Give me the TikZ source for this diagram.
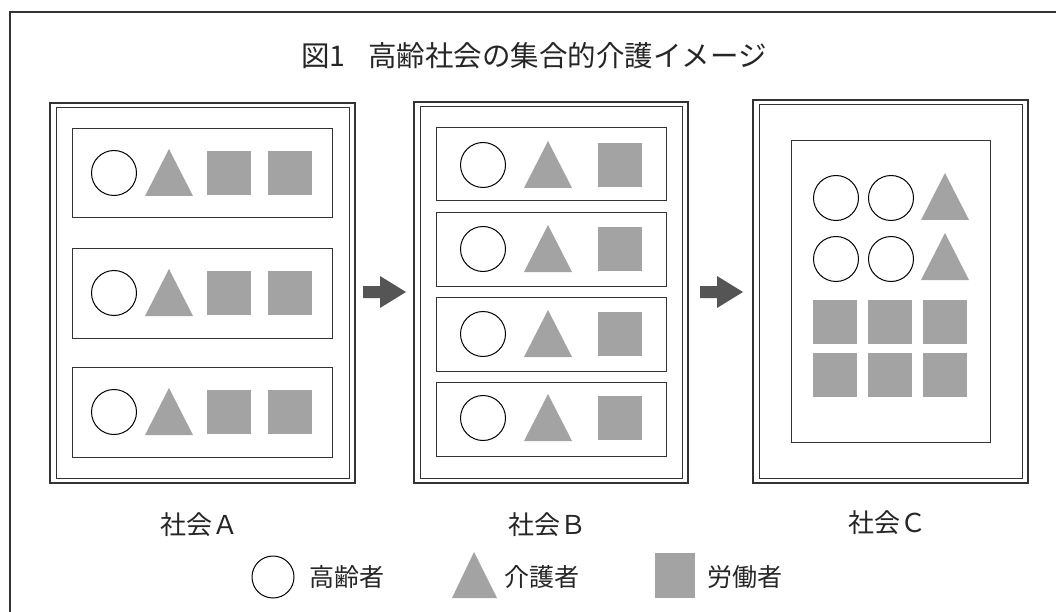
\documentclass[tikz,border=0pt]{standalone}
\usepackage{fontspec}
\newfontfamily\jp{Noto Sans CJK JP}
\definecolor{shapegray}{HTML}{A3A3A3}
\definecolor{arrowgray}{HTML}{555555}
\definecolor{linegray}{HTML}{333333}
\tikzset{
  panelout/.style={draw=linegray, line width=2.2pt},
  panelin/.style={draw=linegray, line width=1pt},
  rowbox/.style={draw=linegray, line width=1pt},
  elder/.style={draw=black, line width=1pt, fill=white},
  worker/.style={fill=shapegray},
  carer/.style={fill=shapegray},
  blockarrow/.style={fill=arrowgray},
  lbl/.style={font=\jp\fontsize{26}{28}\selectfont, text=black!85},
  leglbl/.style={font=\jp\fontsize{25}{27}\selectfont, text=black!85},
}
\newcommand\tri[2]{\fill[carer] ({#1-24},{#2+23}) -- (#1,{#2-24}) -- ({#1+24},{#2+23}) -- cycle;}
\newcommand\sq[2]{\fill[worker] ({#1-22},{#2-22}) rectangle ({#1+22},{#2+22});}
\newcommand\elder[2]{\draw[elder] (#1,#2) circle (22.5);}
\newcommand\barrow[2]{\fill[blockarrow] ({#1-22},{#2-6}) -- ({#1-5},{#2-6}) -- ({#1-5},{#2-16}) -- ({#1+21},#2) -- ({#1-5},{#2+16}) -- ({#1-5},{#2+6}) -- ({#1-22},{#2+6}) -- cycle;}
\begin{document}
\begin{tikzpicture}[x=1pt,y=-1pt]
\useasboundingbox (0,0) rectangle (1056,612);
\fill[white] (0,0) rectangle (1056,612);
% outer frame (open right/bottom)
\draw[linegray, line width=1.2pt] (10,612) -- (10,12) -- (1056,12);
% title
\node[font=\jp\fontsize{28.5}{31}\selectfont, text=black!85] (title) at (534,56) {図1\hspace{0.8em}高齢社会の集合的介護イメージ};
% ---------- panel A
\draw[panelout] (50,103) rectangle (355,483);
\draw[panelin] (56,108) rectangle (349,478);
\foreach \y/\t/\b in {173/129/218, 293/248/338, 412/367/457}{
  \draw[rowbox] (72,\t) rectangle (332,\b);
  \elder{114}{\y}
  \tri{169}{\y}
  \sq{229}{\y}
  \sq{290}{\y}
}
\node[lbl] (labA) at (199,525) {社会Ａ};
% ---------- panel B
\draw[panelout] (414,102) rectangle (688,483);
\draw[panelin] (420,107) rectangle (682,478);
\foreach \y/\t/\b in {165/128/201, 249/213/286, 334/297/371, 418/382/456}{
  \draw[rowbox] (436,\t) rectangle (666,\b);
  \elder{483}{\y}
  \tri{548}{\y}
  \sq{620}{\y}
}
\node[lbl] (labB) at (547,525) {社会Ｂ};
% ---------- panel C
\draw[panelout] (753,100) rectangle (1028,483);
\draw[panelin] (759,105) rectangle (1022,478);
\draw[rowbox] (791,141) rectangle (990,442);
\elder{836}{198}
\elder{891}{198}
\elder{836}{259}
\elder{891}{259}
\tri{945}{197}
\tri{945}{257}
\foreach \x in {835,890,945}{
  \sq{\x}{322}
  \sq{\x}{375}
}
\node[lbl] (labC) at (887,523) {社会Ｃ};
% ---------- arrows
\barrow{385}{292}
\barrow{722}{292}
% ---------- legend
\draw[elder] (273,577) circle (21) node (legE) {};
\node[leglbl, anchor=west] (legEt) at (306,577) {高齢者};
\fill[carer] (452,598) -- (474,552) -- (497,598) -- cycle;
\node[leglbl, anchor=west] (legCt) at (501,577) {介護者};
\fill[worker] (655,553) rectangle (695,598);
\node[leglbl, anchor=west] (legWt) at (704,577) {労働者};
\end{tikzpicture}
\end{document}
